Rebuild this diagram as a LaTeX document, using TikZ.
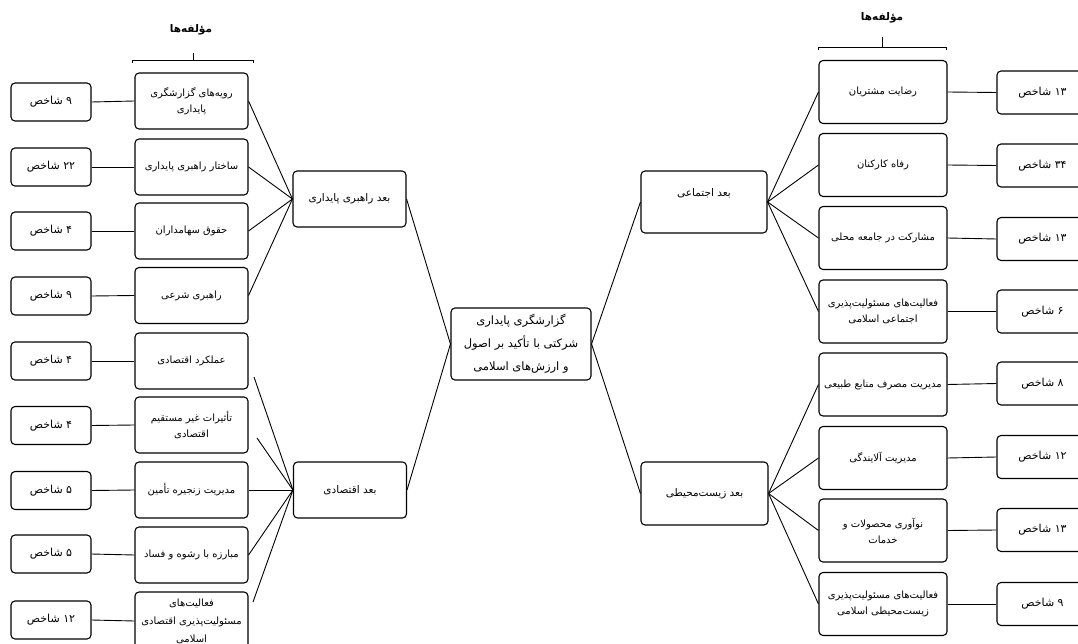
\documentclass[tikz,border=0pt]{standalone}
\usepackage{fontspec}
\newfontfamily\arabicfont[Script=Arabic]{DejaVu Sans}
\TeXXeTstate=1
\newcommand\fa[1]{\beginR #1\endR}
\begin{document}
\begin{tikzpicture}[x=1pt,y=-1pt,
  every node/.style={font=\arabicfont\fontsize{10}{16}\selectfont, align=center, inner sep=1pt},
  bx/.style={draw, rounded corners=4pt, line width=1.1pt},
  cnt/.style={bx, minimum width=80pt, minimum height=38pt, font=\arabicfont\fontsize{11}{14}\selectfont},
  lmid/.style={bx, minimum width=113pt, minimum height=56pt},
  rmid/.style={bx, minimum width=128pt, minimum height=63pt},
  rcnt/.style={bx, minimum width=91pt, minimum height=43pt, font=\arabicfont\fontsize{11}{14}\selectfont},
  dim/.style={bx, minimum width=113pt, minimum height=56pt, font=\arabicfont\fontsize{10.5}{14}\selectfont},
  rdim/.style={bx, minimum width=126pt, minimum height=62pt, font=\arabicfont\fontsize{10.5}{14}\selectfont},
  ln/.style={line width=0.9pt},
  ttl/.style={font=\arabicfont\bfseries\fontsize{10.5}{14}\selectfont}]
\clip (0,0) rectangle (1078,644);
\fill[white] (0,0) rectangle (1078,644);

% titles and brackets
\node[ttl] (t1) at (191,30) {\fa{مؤلفه‌ها}};
\node[ttl] (t2) at (882,18) {\fa{مؤلفه‌ها}};
\draw[ln] (132,63) -- (132,60) -- (253,60) -- (253,63);
\draw[ln] (193,60) -- (193,53);
\draw[ln] (818,50) -- (818,47) -- (946,47) -- (946,50);
\draw[ln] (882,47) -- (882,37);

% left counts
\node[cnt] (lc1) at (51,102) {\fa{۹ شاخص}};
\node[cnt] (lc2) at (51,167) {\fa{۲۲ شاخص}};
\node[cnt] (lc3) at (51,231) {\fa{۴ شاخص}};
\node[cnt] (lc4) at (51,296) {\fa{۹ شاخص}};
\node[cnt] (lc5) at (51,361) {\fa{۴ شاخص}};
\node[cnt] (lc6) at (51,425.5) {\fa{۴ شاخص}};
\node[cnt] (lc7) at (51,490.5) {\fa{۵ شاخص}};
\node[cnt] (lc8) at (51,554) {\fa{۵ شاخص}};
\node[cnt] (lc9) at (51,620) {\fa{۱۲ شاخص}};

% left middle
\node[lmid] (lm1) at (191.5,101) {\fa{رویه‌های گزارشگری}\\\fa{پایداری}};
\node[lmid] (lm2) at (191.5,167) {\fa{ساختار راهبری پایداری}};
\node[lmid] (lm3) at (191.5,231) {\fa{حقوق سهامداران}};
\node[lmid] (lm4) at (191.5,295.5) {\fa{راهبری شرعی}};
\node[lmid] (lm5) at (191.5,361) {\fa{عملکرد اقتصادی}};
\node[lmid] (lm6) at (191.5,425) {\fa{تأثیرات غیر مستقیم}\\\fa{اقتصادی}};
\node[lmid] (lm7) at (191.5,490) {\fa{مدیریت زنجیره تأمین}};
\node[lmid] (lm8) at (191.5,555) {\fa{مبارزه با رشوه و فساد}};
\node[lmid, minimum height=58pt, font=\arabicfont\fontsize{10}{18}\selectfont] (lm9) at (191.5,621) {\fa{فعالیت‌های}\\\fa{مسئولیت‌پذیری اقتصادی}\\\fa{اسلامی}};

% left dims
\node[dim] (ld1) at (349.5,199) {\fa{بعد راهبری پایداری}};
\node[dim] (ld2) at (350,490) {\fa{بعد اقتصادی}};

% center
\node[bx, minimum width=140pt, minimum height=72pt, font=\arabicfont\fontsize{11.5}{23}\selectfont] (c) at (521,344)
  {\fa{گزارشگری پایداری}\\\fa{شرکتی با تأکید بر اصول}\\\fa{و ارزش‌های اسلامی}};

% right dims
\node[rdim] (rd1) at (704,202) {\raisebox{9pt}[\height][\depth]{\fa{بعد اجتماعی}}};
\node[rdim, minimum width=127pt, minimum height=63pt] (rd2) at (704.5,493.5) {\fa{بعد زیست‌محیطی}};

% right middle
\node[rmid] (rm1) at (883,92) {\fa{رضایت مشتریان}};
\node[rmid] (rm2) at (883,165) {\fa{رفاه کارکنان}};
\node[rmid] (rm3) at (883,238) {\fa{مشارکت در جامعه محلی}};
\node[rmid] (rm4) at (883,311.5) {\fa{فعالیت‌های مسئولیت‌پذیری}\\\fa{اجتماعی اسلامی}};
\node[rmid] (rm5) at (883,384.5) {\fa{مدیریت مصرف منابع طبیعی}};
\node[rmid] (rm6) at (883,458) {\fa{مدیریت آلایندگی}};
\node[rmid] (rm7) at (883,530.5) {\fa{نوآوری محصولات و}\\\fa{خدمات}};
\node[rmid] (rm8) at (883,604) {\fa{فعالیت‌های مسئولیت‌پذیری}\\\fa{زیست‌محیطی اسلامی}};

% right counts
\node[rcnt] (rc1) at (1042.5,92.5) {\fa{۱۳ شاخص}};
\node[rcnt] (rc2) at (1042.5,165.5) {\fa{۳۴ شاخص}};
\node[rcnt] (rc3) at (1042.5,239) {\fa{۱۳ شاخص}};
\node[rcnt] (rc4) at (1042.5,311.5) {\fa{۶ شاخص}};
\node[rcnt] (rc5) at (1042.5,383.5) {\fa{۸ شاخص}};
\node[rcnt] (rc6) at (1042.5,457) {\fa{۱۲ شاخص}};
\node[rcnt] (rc7) at (1042.5,530) {\fa{۱۳ شاخص}};
\node[rcnt] (rc8) at (1042.5,604) {\fa{۹ شاخص}};

% floating starts of economic connectors
\coordinate (e5) at (254,377);
\coordinate (e6) at (257,438);
\coordinate (e9) at (253,602);

% connectors left
\foreach \i in {1,...,9} {\draw[ln] (lc\i.east) -- (lm\i.west);}
\foreach \i in {1,...,4} {\draw[ln] (lm\i.east) -- (ld1.west);}
\draw[ln] (e5) -- (ld2.west);
\draw[ln] (e6) -- (ld2.west);
\draw[ln] (lm7.east) -- (ld2.west);
\draw[ln] (lm8.east) -- (ld2.west);
\draw[ln] (e9) -- (ld2.west);
\draw[ln] (ld1.east) -- (c.west);
\draw[ln] (ld2.east) -- (c.west);
% connectors right
\draw[ln] (c.east) -- (rd1.west);
\draw[ln] (c.east) -- (rd2.west);
\foreach \i in {1,...,4} {\draw[ln] (rd1.east) -- (rm\i.west);}
\foreach \i in {5,...,8} {\draw[ln] (rd2.east) -- (rm\i.west);}
\foreach \i in {1,...,8} {\draw[ln] (rm\i.east) -- (rc\i.west);}
\end{tikzpicture}
\end{document}
